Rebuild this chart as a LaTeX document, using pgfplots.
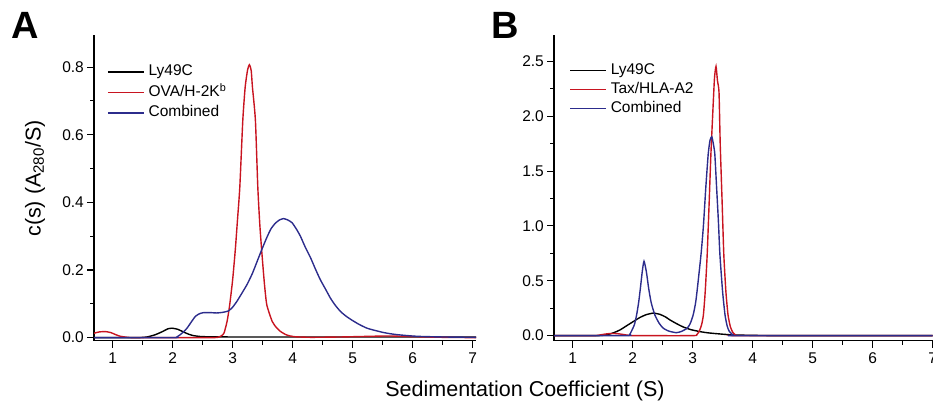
\documentclass[border=0pt]{standalone}
\usepackage{pgfplots}
\pgfplotsset{compat=1.18}
\usepackage{fontspec}
\setmainfont{Liberation Sans}
\definecolor{cred}{RGB}{200,20,32}
\definecolor{cblue}{RGB}{44,44,140}
\pgfplotsset{
  panel/.style={
    scale only axis, height=305.7pt,
    axis x line*=bottom, axis y line*=left,
    tick align=outside, major tick length=7pt, minor tick length=4pt,
    xtick={1,2,3,4,5,6,7}, minor x tick num=1,
    minor y tick num=1,
    tick label style={font=\fontsize{15.5}{18}\selectfont},
    yticklabel style={inner sep=3pt},
    xticklabel style={inner sep=4.5pt},
    /pgf/number format/assume math mode=true,
    yticklabel style={/pgf/number format/.cd, fixed, fixed zerofill, precision=1},
    axis line style={line width=1.1pt},
    every tick/.style={black, line width=1.1pt},
    legend cell align=left,
    legend style={draw=none, fill=none, anchor=north west, inner sep=0pt,
      font=\fontsize{15.5}{18}\selectfont,
      /tikz/every odd column/.append style={column sep=3pt},
      nodes={inner sep=1pt, text height=11.5pt, text depth=3.5pt}},
    legend image code/.code={\draw[##1, line width=1.4pt] (0pt,0pt) -- (36pt,0pt);},
    every axis plot/.append style={line width=1.4pt, smooth, tension=0.35},
  }
}
\begin{document}
\begin{tikzpicture}
\path[use as bounding box] (0,0) rectangle (933pt,403pt);
% Panel A
\begin{axis}[panel, at={(94pt,62.3pt)}, anchor=south west, width=382.2pt,
  xmin=0.69, xmax=7.06, ymin=-0.009, ymax=0.895,
  ytick={0,0.2,0.4,0.6,0.8},
  legend style={at={(0.034,0.908)}, row sep=3.5pt}]
\addplot[black] coordinates {
(0.69,0) (1.4,0) (1.57,0.002) (1.7,0.008) (1.82,0.017) (1.92,0.026) (1.99,0.028)
(2.08,0.025) (2.18,0.017) (2.27,0.010) (2.35,0.006) (2.5,0.003) (3.0,0.002)
(4.0,0.002) (5.0,0.002) (6.0,0.002) (7.06,0.002)};
\addlegendentry{Ly49C}
\addplot[cred] coordinates {
(0.69,0.013) (0.78,0.017) (0.88,0.018) (0.97,0.015) (1.05,0.009) (1.13,0.004)
(1.25,0.001) (1.4,0) (2.6,0) (2.75,0.001) (2.82,0.006) (2.86,0.015) (2.91,0.05)
(2.95,0.095) (3.0,0.17) (3.045,0.26) (3.08,0.345) (3.12,0.445) (3.17,0.643) (3.21,0.742)
(3.25,0.792) (3.28,0.807) (3.31,0.79) (3.33,0.742) (3.38,0.643) (3.42,0.445)
(3.455,0.33) (3.49,0.246) (3.53,0.16) (3.57,0.097) (3.66,0.048) (3.73,0.03)
(3.80,0.018) (3.9,0.008) (4.02,0.003) (4.3,0.001) (4.8,0.002) (5.3,0.004)
(5.6,0.005) (6.0,0.003) (6.5,0.001) (7.06,0)};
\addlegendentry{OVA/H-2K\textsuperscript{b}}
\addplot[cblue] coordinates {
(0.69,0) (2.0,0) (2.07,0.002) (2.15,0.012) (2.24,0.028) (2.31,0.046) (2.38,0.063)
(2.45,0.071) (2.52,0.074) (2.63,0.074) (2.74,0.073) (2.84,0.075) (2.93,0.079)
(3.0,0.09) (3.07,0.107) (3.15,0.13) (3.24,0.157) (3.33,0.19) (3.41,0.226)
(3.49,0.262) (3.57,0.296) (3.64,0.322) (3.71,0.338) (3.78,0.348) (3.85,0.352)
(3.92,0.348) (3.99,0.340) (4.06,0.322) (4.13,0.30) (4.21,0.268) (4.30,0.236)
(4.38,0.203) (4.46,0.172) (4.55,0.143) (4.63,0.117) (4.71,0.096) (4.80,0.077)
(4.88,0.065) (4.96,0.055) (5.1,0.040) (5.24,0.028) (5.38,0.021) (5.52,0.015)
(5.65,0.011) (5.79,0.008) (6.07,0.004) (6.5,0.002) (7.06,0.001)};
\addlegendentry{Combined}
\end{axis}
% Panel B
\begin{axis}[panel, at={(554pt,62.3pt)}, anchor=south west, width=378.6pt,
  xmin=0.69, xmax=7.0, ymin=-0.046, ymax=2.74,
  ytick={0,0.5,1,1.5,2,2.5},
  legend style={at={(0.04,0.912)}, row sep=2pt}]
\addplot[black] coordinates {
(0.69,0) (1.4,0) (1.55,0.006) (1.62,0.015) (1.70,0.03) (1.79,0.052) (1.9,0.09)
(2.01,0.128) (2.12,0.165) (2.22,0.19) (2.34,0.205) (2.45,0.195) (2.55,0.17)
(2.62,0.144) (2.73,0.11) (2.84,0.08) (2.97,0.055) (3.12,0.037) (3.25,0.026)
(3.4,0.018) (3.6,0.009) (3.79,0.005) (4.2,0.001) (5,0) (7,0)};
\addlegendentry{Ly49C}
\addplot[cred] coordinates {
(0.69,0) (1.35,0) (1.45,0.006) (1.55,0.015) (1.65,0.02) (1.75,0.018) (1.85,0.01)
(1.95,0.002) (2.05,0) (3.0,0) (3.07,0.01) (3.11,0.04) (3.15,0.1) (3.18,0.19)
(3.21,0.4) (3.243,0.739) (3.275,1.2) (3.305,1.655) (3.343,2.11) (3.365,2.35)
(3.39,2.454) (3.415,2.32) (3.44,2.22) (3.46,1.75) (3.49,1.25) (3.52,0.739)
(3.555,0.4) (3.59,0.19) (3.63,0.08) (3.67,0.03) (3.72,0.005) (3.8,0) (7,0)};
\addlegendentry{Tax/HLA-A2}
\addplot[cblue] coordinates {
(0.69,0) (1.9,0) (1.95,0.01) (1.98,0.04) (2.03,0.1) (2.067,0.19) (2.1,0.3)
(2.13,0.434) (2.16,0.58) (2.19,0.678) (2.23,0.58) (2.267,0.434) (2.31,0.3)
(2.37,0.19) (2.44,0.115) (2.51,0.068) (2.6,0.042) (2.73,0.027) (2.82,0.04)
(2.91,0.068) (2.96,0.11) (3.01,0.19) (3.05,0.3) (3.08,0.434) (3.14,0.739)
(3.18,1.0) (3.22,1.35) (3.26,1.655) (3.29,1.78) (3.32,1.813) (3.345,1.75)
(3.37,1.655) (3.40,1.35) (3.43,1.04) (3.455,0.739) (3.5,0.4) (3.54,0.19)
(3.575,0.09) (3.61,0.04) (3.68,0.003) (3.75,0) (7,0)};
\addlegendentry{Combined}
\end{axis}
\node[rotate=90, font=\fontsize{21.5}{24}\selectfont, inner sep=0pt] at (35pt,224.5pt) {c(s) (A\textsubscript{280}/S)};
\node[anchor=base, font=\fontsize{21.5}{24}\selectfont, inner sep=0pt] at (525pt,6pt) {Sedimentation Coefficient (S)};
\node[anchor=base west, font=\fontsize{38}{40}\bfseries\selectfont, inner sep=0pt] at (11pt,364pt) {A};
\node[anchor=base west, font=\fontsize{38}{40}\bfseries\selectfont, inner sep=0pt] at (491pt,364pt) {B};
\end{tikzpicture}
\end{document}
